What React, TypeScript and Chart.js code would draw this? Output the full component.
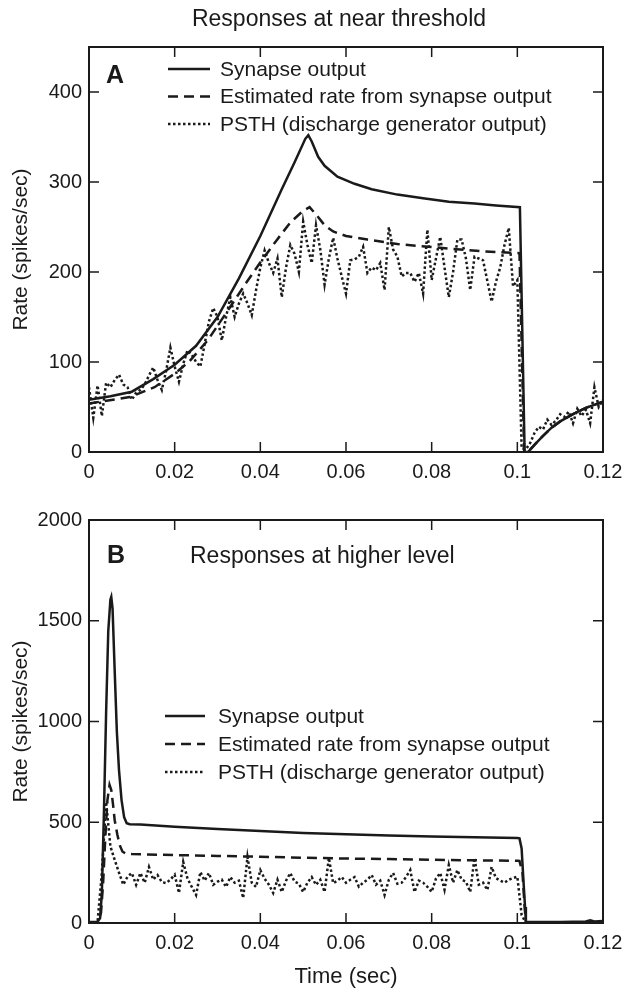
import React, { useEffect, useRef } from 'react';
import { Chart, registerables } from 'chart.js';

Chart.register(...registerables);

// ---------- data ----------
const xTickValues = [0, 0.02, 0.04, 0.06, 0.08, 0.1, 0.12];
const xTickLabels = ['0', '0.02', '0.04', '0.06', '0.08', '0.1', '0.12'];
const topYTicks = [0, 100, 200, 300, 400];
const bottomYTicks = [0, 500, 1000, 1500, 2000];

const seriesLabels = [
  'Synapse output',
  'Estimated rate from synapse output',
  'PSTH (discharge generator output)',
];

const psthBinSec = 0.001;

// Panel A (near threshold)
const topSynapseT = [0, 0.005, 0.01, 0.015, 0.02, 0.025, 0.03, 0.035, 0.04, 0.045, 0.048, 0.0505, 0.0512, 0.052, 0.0535, 0.055, 0.058, 0.062, 0.066, 0.072, 0.078, 0.084, 0.09, 0.095, 0.1006, 0.1017, 0.1025, 0.104, 0.106, 0.108, 0.11, 0.113, 0.116, 0.12];
const topSynapseRate = [58, 62, 67, 81, 97, 118, 150, 193, 240, 292, 322, 348, 352, 345, 328, 318, 306, 298, 292, 286, 282, 278, 276, 274, 272, 0, 0, 8, 18, 27, 34, 42, 49, 56];

const topEstimatedT = [0, 0.0095, 0.0153, 0.02, 0.0235, 0.0277, 0.0328, 0.0367, 0.0402, 0.0436, 0.047, 0.05, 0.0515, 0.053, 0.055, 0.057, 0.06, 0.065, 0.072, 0.084, 0.092, 0.1005, 0.1016, 0.1025, 0.104, 0.106, 0.108, 0.11, 0.113, 0.116, 0.12];
const topEstimatedRate = [54, 61, 72, 87, 101, 124, 160, 188, 212, 234, 255, 268, 272, 264, 252, 245, 240, 236, 231, 226, 223, 221, 0, 0, 8, 18, 27, 34, 42, 49, 56];

const topPsthRate = [
  72, 38, 74, 40, 77, 72, 80, 86, 75, 72,
  58, 66, 69, 75, 85, 94, 80, 69, 90, 116,
  95, 78, 98, 113, 108, 100, 95, 120, 145, 160,
  150, 124, 150, 172, 150, 165, 176, 165, 152, 180,
  205, 224, 210, 199, 215, 172, 205, 230, 220, 200,
  256, 230, 210, 252, 225, 186, 215, 238, 215, 195,
  176, 213, 214, 217, 228, 199, 205, 202, 210, 180,
  250, 225, 217, 195, 199, 199, 189, 199, 176, 247,
  191, 215, 239, 205, 172, 200, 236, 236, 215, 180,
  217, 215, 213, 190, 167, 189, 205, 230, 249, 184,
  191, 4, 3, 10, 21, 28, 25, 36, 30, 35,
  42, 39, 45, 32, 48, 40, 47, 32, 72, 50,
  58,
];

// Panel B (higher level)
const bottomSynapseT = [0, 0.002, 0.0026, 0.003, 0.0035, 0.004, 0.0045, 0.005, 0.0052, 0.0055, 0.006, 0.0065, 0.007, 0.0076, 0.0082, 0.0088, 0.0095, 0.012, 0.02, 0.03, 0.04, 0.05, 0.06, 0.07, 0.08, 0.09, 0.1, 0.1005, 0.101, 0.1014, 0.1018, 0.102, 0.11, 0.116, 0.117, 0.118, 0.12];
const bottomSynapseRate = [5, 6, 25, 150, 560, 1050, 1450, 1605, 1618, 1560, 1250, 950, 760, 610, 525, 495, 490, 489, 478, 466, 456, 447, 440, 434, 429, 425, 422, 420, 370, 220, 80, 5, 5, 8, 14, 8, 10];

const bottomEstimatedT = [0, 0.002, 0.0028, 0.0033, 0.0038, 0.0043, 0.0048, 0.0052, 0.0056, 0.006, 0.0066, 0.0072, 0.0078, 0.0085, 0.01, 0.02, 0.03, 0.04, 0.05, 0.06, 0.07, 0.08, 0.09, 0.1, 0.1005, 0.1012, 0.1017, 0.102, 0.12];
const bottomEstimatedRate = [3, 4, 50, 200, 420, 610, 685, 660, 590, 510, 440, 385, 355, 345, 342, 337, 333, 329, 324, 320, 317, 314, 311, 309, 308, 250, 80, 3, 3];

const bottomPsthRate = [
  0, 0, 5, 250, 600, 380, 313, 250, 190, 230,
  248, 189, 248, 200, 278, 215, 238, 203, 198, 215,
  240, 149, 303, 220, 179, 139, 253, 210, 248, 190,
  205, 215, 179, 228, 200, 210, 124, 328, 200, 179,
  263, 220, 190, 149, 215, 154, 210, 248, 205, 195,
  154, 200, 228, 189, 215, 154, 323, 198, 210, 228,
  200, 215, 228, 180, 200, 215, 238, 190, 210, 139,
  215, 248, 195, 200, 228, 263, 154, 210, 200, 180,
  154, 220, 248, 165, 288, 200, 263, 215, 205, 154,
  323, 190, 200, 164, 278, 223, 210, 200, 215, 223,
  230, 40, 0, 0, 0, 0, 0, 0, 0, 0,
  0, 0, 0, 0, 0, 0, 0, 6, 0, 0,
  0,
];

// ---------- styling ----------
const FONT = '"Liberation Sans", Arial, Helvetica, sans-serif';
const INK = '#1a1a1a';

const pairs = (t: number[], v: number[]) => t.map((x, i) => ({ x, y: v[i] }));
const binned = (v: number[]) => v.map((y, i) => ({ x: i * psthBinSec, y }));

const decorPlugin = {
  id: 'decor',
  afterDatasetsDraw(chart: any) {
    const { ctx, chartArea } = chart;
    const { left, right, top, bottom } = chartArea;
    const xs = chart.scales.x;
    const ys = chart.scales.y;
    ctx.save();
    ctx.setLineDash([]);
    ctx.strokeStyle = INK;
    ctx.lineWidth = 2;
    ctx.strokeRect(left, top, right - left, bottom - top);
    ctx.lineWidth = 1.5;
    const len = 10;
    ctx.beginPath();
    xs.ticks.forEach((t: any) => {
      const p = xs.getPixelForValue(t.value);
      if (p <= left + 2 || p >= right - 2) return;
      ctx.moveTo(p, bottom);
      ctx.lineTo(p, bottom - len);
      ctx.moveTo(p, top);
      ctx.lineTo(p, top + len);
    });
    ys.ticks.forEach((t: any) => {
      const p = ys.getPixelForValue(t.value);
      if (p <= top + 2 || p >= bottom - 2) return;
      ctx.moveTo(left, p);
      ctx.lineTo(left + len, p);
      ctx.moveTo(right, p);
      ctx.lineTo(right - len, p);
    });
    ctx.stroke();
    ctx.restore();
  },
  afterDraw(chart: any, _args: any, opts: any) {
    const { ctx } = chart;
    ctx.save();
    ctx.fillStyle = INK;
    ctx.font = `bold ${opts.letterSize}px ${FONT}`;
    ctx.textBaseline = 'alphabetic';
    ctx.textAlign = 'left';
    ctx.fillText(opts.letter, opts.letterX, opts.letterY);
    ctx.font = `${opts.titleSize}px ${FONT}`;
    ctx.textAlign = opts.titleAlign;
    ctx.fillText(opts.title, opts.titleX, opts.titleY);
    const lg = opts.legend;
    ctx.font = `${lg.size}px ${FONT}`;
    ctx.textAlign = 'left';
    ctx.textBaseline = 'middle';
    chart.data.datasets.forEach((ds: any, i: number) => {
      const y = lg.top + i * lg.gap;
      ctx.beginPath();
      ctx.strokeStyle = ds.borderColor;
      ctx.lineWidth = ds.borderWidth;
      ctx.setLineDash(ds.borderDash || []);
      ctx.moveTo(lg.sampleLeft, y);
      ctx.lineTo(lg.sampleRight, y);
      ctx.stroke();
      ctx.setLineDash([]);
      ctx.fillText(ds.label, lg.textLeft, y + 1);
    });
    ctx.restore();
  },
};

function makeDatasets(syn: any[], est: any[], psth: any[]) {
  const base = { borderColor: INK, borderWidth: 2.5, pointRadius: 0, tension: 0, fill: false };
  return [
    { ...base, label: seriesLabels[0], data: syn },
    { ...base, label: seriesLabels[1], data: est, borderDash: [10, 6] },
    { ...base, label: seriesLabels[2], data: psth, borderDash: [2.5, 2.5] },
  ];
}

function makeConfig(opts: {
  datasets: any[];
  yMax: number;
  yTicks: number[];
  padTop: number;
  xHeight: number;
  xTitle?: string;
  decor: any;
}): any {
  return {
    type: 'line',
    data: { datasets: opts.datasets },
    plugins: [decorPlugin],
    options: {
      responsive: false,
      animation: false,
      devicePixelRatio: 1,
      layout: { padding: { top: opts.padTop, right: 20, left: 0, bottom: 0 } },
      plugins: {
        legend: { display: false },
        tooltip: { enabled: false },
        decor: opts.decor,
      },
      scales: {
        x: {
          type: 'linear',
          min: 0,
          max: 0.12,
          afterBuildTicks: (s: any) => {
            s.ticks = xTickValues.map((value) => ({ value }));
          },
          afterFit: (s: any) => {
            s.height = opts.xHeight;
            s.paddingLeft = 0;
            s.paddingRight = 0;
          },
          grid: { display: false, drawTicks: false },
          border: { display: false },
          ticks: {
            autoSkip: false,
            maxRotation: 0,
            padding: 8,
            color: INK,
            font: { family: FONT, size: 20 },
            callback: (v: number) => xTickLabels[xTickValues.indexOf(v)] ?? '',
          },
          title: opts.xTitle
            ? { display: true, text: opts.xTitle, color: INK, font: { family: FONT, size: 22 }, padding: { top: 4, bottom: 0 } }
            : { display: false },
        },
        y: {
          type: 'linear',
          min: 0,
          max: opts.yMax,
          afterBuildTicks: (s: any) => {
            s.ticks = opts.yTicks.map((value) => ({ value }));
          },
          afterFit: (s: any) => {
            s.width = 89;
            s.paddingTop = 0;
            s.paddingBottom = 0;
          },
          grid: { display: false, drawTicks: false },
          border: { display: false },
          ticks: {
            autoSkip: false,
            padding: 7,
            color: INK,
            font: { family: FONT, size: 20 },
            callback: (v: number) => String(v),
          },
          title: {
            display: true,
            text: 'Rate (spikes/sec)',
            color: INK,
            font: { family: FONT, size: 21 },
            padding: { top: 9, bottom: 4 },
          },
        },
      },
    },
  };
}

export default function App() {
  const topRef = useRef<HTMLCanvasElement | null>(null);
  const bottomRef = useRef<HTMLCanvasElement | null>(null);

  useEffect(() => {
    Chart.defaults.font.family = FONT;
    Chart.defaults.color = INK;
    const top = new Chart(
      topRef.current as HTMLCanvasElement,
      makeConfig({
        datasets: makeDatasets(
          pairs(topSynapseT, topSynapseRate),
          pairs(topEstimatedT, topEstimatedRate),
          binned(topPsthRate)
        ),
        yMax: 450,
        yTicks: topYTicks,
        padTop: 47,
        xHeight: 38,
        decor: {
          letter: 'A',
          letterSize: 25,
          letterX: 106,
          letterY: 83,
          title: 'Responses at near threshold',
          titleSize: 23,
          titleAlign: 'center',
          titleX: 339,
          titleY: 26,
          legend: { size: 21, sampleLeft: 168, sampleRight: 210, textLeft: 220, top: 69, gap: 27.5 },
        },
      })
    );
    const bottom = new Chart(
      bottomRef.current as HTMLCanvasElement,
      makeConfig({
        datasets: makeDatasets(
          pairs(bottomSynapseT, bottomSynapseRate),
          pairs(bottomEstimatedT, bottomEstimatedRate),
          binned(bottomPsthRate)
        ),
        yMax: 2000,
        yTicks: bottomYTicks,
        padTop: 30,
        xHeight: 67,
        xTitle: 'Time (sec)',
        decor: {
          letter: 'B',
          letterSize: 25,
          letterX: 107,
          letterY: 73,
          title: 'Responses at higher level',
          titleSize: 23,
          titleAlign: 'left',
          titleX: 190,
          titleY: 73,
          legend: { size: 21, sampleLeft: 165, sampleRight: 205, textLeft: 218, top: 226, gap: 28 },
        },
      })
    );
    return () => {
      top.destroy();
      bottom.destroy();
    };
  }, []);

  return (
    <div style={{ position: 'absolute', left: 0, top: 0, width: 623, height: 990, background: '#fff' }}>
      <canvas ref={topRef} width={623} height={490} style={{ position: 'absolute', left: 0, top: 0, width: 623, height: 490 }} />
      <canvas ref={bottomRef} width={623} height={500} style={{ position: 'absolute', left: 0, top: 490, width: 623, height: 500 }} />
    </div>
  );
}
